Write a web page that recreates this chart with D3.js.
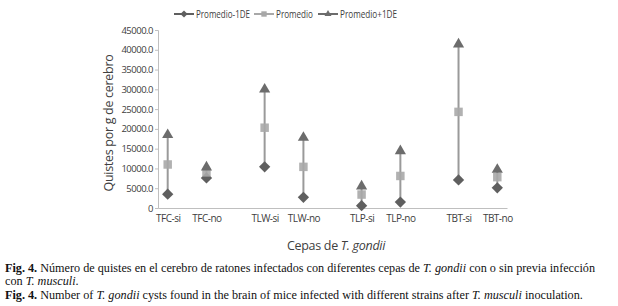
<!DOCTYPE html>
<html>
<head>
<meta charset="utf-8">
<script src="https://cdn.jsdelivr.net/npm/d3@7"></script>
<style>
  body { margin: 0; background: #fff; }
  svg { display: block; }
  .sans { font-family: "Open Sans", "Noto Sans", sans-serif; fill: #404040; }
  .serif { font-family: "Liberation Serif", "Times New Roman", serif; fill: #111; }
</style>
</head>
<body>
<div id="vis"></div>
<script>
// strains with (si) or without (no) previous T. musculi infection
const categories = ["TFC-si", "TFC-no", "TLW-si", "TLW-no", "TLP-si", "TLP-no", "TBT-si", "TBT-no"];

const meanMinus = [3500, 7600, 10400, 2700, 600, 1500, 7100, 5100];
const mean = [11000, 9000, 20300, 10400, 3400, 8100, 24300, 7800];
const meanPlus = [18500, 10300, 30000, 17800, 5500, 14400, 41400, 9700];

const yTicks = [0, 5000, 10000, 15000, 20000, 25000, 30000, 35000, 40000, 45000];

// diamond drawn as a square turned 45 degrees
const diamond = {
  draw(ctx, size) {
    const r = Math.sqrt(size / 2);
    ctx.moveTo(0, -r);
    ctx.lineTo(r, 0);
    ctx.lineTo(0, r);
    ctx.lineTo(-r, 0);
    ctx.closePath();
  }
};

const series = [
  { name: "Promedio-1DE", values: meanMinus, shape: diamond, color: "#5f5f5f", size: 64 },
  { name: "Promedio", values: mean, shape: d3.symbolSquare, color: "#a8a8a8", size: 72 },
  { name: "Promedio+1DE", values: meanPlus, shape: d3.symbolTriangle, color: "#6c6c6c", size: 54 }
];

const W = 618, H = 306;
const margin = { left: 158, right: 111, top: 30, bottom: 98 };

const svg = d3.select("#vis").append("svg")
  .attr("width", W)
  .attr("height", H);

// pairs per strain, a wider gap between strains
const slot = (d, i) => Math.floor(i / 2) * 2.5 + (i % 2) + 1;

const x = d3.scaleLinear()
  .domain([0.75, 9.75])
  .range([margin.left, W - margin.right]);

const y = d3.scaleLinear()
  .domain([0, 45000])
  .range([H - margin.bottom, margin.top]);

// y axis
const yAxis = svg.append("g")
  .attr("transform", `translate(${margin.left},0)`)
  .call(d3.axisLeft(y).tickValues(yTicks).tickSize(3).tickPadding(2)
    .tickFormat(d => d === 0 ? "0" : d3.format(".1f")(d)));
yAxis.select(".domain").attr("stroke", "#bfbfbf");
yAxis.selectAll(".tick line").attr("stroke", "#bfbfbf");
yAxis.selectAll("text")
  .attr("class", "sans")
  .attr("font-size", 9.5)
  .attr("letter-spacing", -0.5);

// x axis
const xAxis = svg.append("g")
  .attr("transform", `translate(0,${y(0)})`)
  .call(d3.axisBottom(x).tickValues(categories.map(slot)).tickSize(0).tickPadding(7)
    .tickFormat((d, i) => categories[i]));
xAxis.select(".domain").attr("stroke", "#bfbfbf");
xAxis.selectAll("text")
  .attr("class", "sans")
  .attr("font-size", 10)
  .attr("letter-spacing", -0.5);

// axis titles
svg.append("text")
  .attr("class", "sans")
  .attr("transform", `translate(113,${(y(0) + y(45000)) / 2 + 4}) rotate(-90)`)
  .attr("text-anchor", "middle")
  .attr("font-size", 12.5)
  .attr("letter-spacing", -0.3)
  .text("Quistes por g de cerebro");

const xt = svg.append("text")
  .attr("class", "sans")
  .attr("x", 336)
  .attr("y", 250)
  .attr("text-anchor", "middle")
  .attr("font-size", 12.5)
  .attr("letter-spacing", -0.3);
xt.append("tspan").text("Cepas de ");
xt.append("tspan").attr("font-style", "italic").text("T. gondii");

// vertical range lines
svg.append("g")
  .selectAll("line")
  .data(categories)
  .enter()
  .append("line")
  .attr("x1", (d, i) => x(slot(d, i)))
  .attr("x2", (d, i) => x(slot(d, i)))
  .attr("y1", (d, i) => y(meanMinus[i]))
  .attr("y2", (d, i) => y(meanPlus[i]))
  .attr("stroke", "#9a9a9a")
  .attr("stroke-width", 2);

// markers
series.forEach(s => {
  svg.append("g")
    .selectAll("path")
    .data(s.values)
    .enter()
    .append("path")
    .attr("d", d3.symbol().type(s.shape).size(s.size))
    .attr("transform", (d, i) => `translate(${x(slot(d, i))},${y(d)})`)
    .attr("fill", s.color)
    .attr("opacity", s.name === "Promedio" ? 0.9 : 1);
});

// legend
const legendX = [174, 254, 318];
const legendW = [54, 37, 57];
const legend = svg.append("g").attr("transform", "translate(0,14)");
series.forEach((s, i) => {
  const g = legend.append("g").attr("transform", `translate(${legendX[i]},0)`);
  g.append("line")
    .attr("x1", 0).attr("x2", 20)
    .attr("stroke", s.color)
    .attr("stroke-width", 2);
  g.append("path")
    .attr("d", d3.symbol().type(s.shape).size(s.size * 0.4))
    .attr("transform", "translate(10,0)")
    .attr("fill", s.color);
  g.append("text")
    .attr("class", "sans")
    .attr("x", 22)
    .attr("y", 4)
    .attr("font-size", 11.5)
    .attr("textLength", legendW[i])
    .attr("lengthAdjust", "spacingAndGlyphs")
    .text(s.name);
});

// caption
const cap = svg.append("g").attr("class", "serif").attr("font-size", 12.2);
const line1 = cap.append("text").attr("x", 5).attr("y", 272);
line1.append("tspan").attr("font-weight", "bold").text("Fig. 4. ");
line1.append("tspan").text("Número de quistes en el cerebro de ratones infectados con diferentes cepas de ");
line1.append("tspan").attr("font-style", "italic").text("T. gondii");
line1.append("tspan").text(" con o sin previa infección");
const line2 = cap.append("text").attr("x", 5).attr("y", 285);
line2.append("tspan").text("con ");
line2.append("tspan").attr("font-style", "italic").text("T. musculi");
line2.append("tspan").text(".");
const line3 = cap.append("text").attr("x", 5).attr("y", 299);
line3.append("tspan").attr("font-weight", "bold").text("Fig. 4. ");
line3.append("tspan").text("Number of ");
line3.append("tspan").attr("font-style", "italic").text("T. gondii");
line3.append("tspan").text(" cysts found in the brain of mice infected with different strains after ");
line3.append("tspan").attr("font-style", "italic").text("T. musculi");
line3.append("tspan").text(" inoculation.");
</script>
</body>
</html>
